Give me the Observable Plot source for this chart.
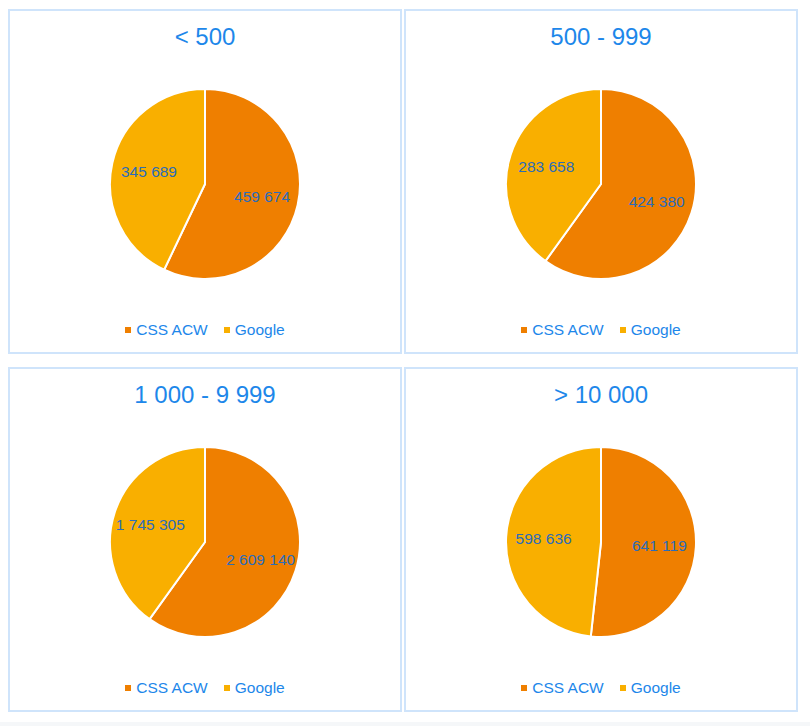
<!DOCTYPE html>
<html>
<head>
<meta charset="utf-8">
<script src="https://cdn.jsdelivr.net/npm/d3@7"></script>
<script src="https://cdn.jsdelivr.net/npm/@observablehq/plot@0.6"></script>
<style>
  html, body { margin: 0; padding: 0; background: #ffffff; }
  body { width: 810px; height: 726px; position: relative; overflow: hidden;
         font-family: "Liberation Sans", Arial, sans-serif; }
  .panel { position: absolute; box-sizing: border-box; width: 394px; height: 345px;
           border: 2px solid #cfe4fb; background: #fff; overflow: hidden; }
  .title { height: 52px; line-height: 52px; text-align: center; font-size: 24px; color: #1d87ea; }
  .plot svg { display: block; }
  .legend { height: 49px; display: flex; justify-content: center; align-items: center;
            font-size: 15.5px; color: #1d87ea; }
  .item { display: flex; align-items: center; margin: 0 8px; }
  .sw { display: inline-block; width: 6px; height: 6px; margin-right: 5px; }
  .strip { position: absolute; left: 0; top: 722px; width: 810px; height: 4px; background: #f5f7f9; }
</style>
</head>
<body>
<div id="root"></div>
<div class="strip"></div>
<script>
// ---- data ----
const panelTitles = ["< 500", "500 - 999", "1 000 - 9 999", "> 10 000"];
const seriesNames = ["CSS ACW", "Google"];
const cssAcwValues = [459674, 424380, 2609140, 641119];
const googleValues = [345689, 283658, 1745305, 598636];
const seriesColors = ["#ef7f00", "#f9af00"];

// ---- layout ----
const panelPos = [[8, 9], [404, 9], [8, 367], [404, 367]];
const W = 390, H = 242, R = 95;

const fmt = d3.formatLocale({decimal: ",", thousands: " ", grouping: [3], currency: ["", ""]}).format(",d");
const colorScale = Plot.scale({color: {type: "ordinal", domain: seriesNames, range: seriesColors}});

const root = document.getElementById("root");

panelTitles.forEach((title, i) => {
  const values = [cssAcwValues[i], googleValues[i]];
  const data = seriesNames.map((name, j) => ({name, value: values[j]}));
  const arcs = d3.pie().sort(null).value(d => d.value)(data);
  const labelArc = d3.arc().innerRadius(R * 0.61).outerRadius(R * 0.61);
  const labels = arcs.map(a => {
    const [lx, ly] = labelArc.centroid(a);
    return {lx, ly: -ly, label: fmt(a.data.value)};
  });

  const pieMark = (index, scales, values_, dims) => {
    const cx = scales.x ? scales.x(0) : dims.width / 2;
    const cy = scales.y ? scales.y(0) : dims.height / 2;
    const r = scales.x ? scales.x(R) - scales.x(0) : R;
    const arc = d3.arc().innerRadius(0).outerRadius(r);
    const g = d3.create("svg:g").attr("transform", `translate(${cx},${cy})`);
    g.selectAll("path").data(arcs).join("path")
      .attr("d", arc)
      .attr("fill", d => colorScale.apply(d.data.name))
      .attr("stroke", "#ffffff")
      .attr("stroke-width", 2)
      .attr("stroke-linejoin", "round");
    return g.node();
  };

  const plot = Plot.plot({
    width: W, height: H, margin: 0,
    x: {domain: [-W / 2, W / 2], axis: null},
    y: {domain: [-H / 2, H / 2], axis: null},
    style: {background: "transparent", fontFamily: "'Liberation Sans', Arial, sans-serif", overflow: "visible"},
    marks: [
      pieMark,
      Plot.text(labels, {x: "lx", y: "ly", text: "label", fill: "#2b6cba", fontSize: 15.5})
    ]
  });

  const panel = document.createElement("div");
  panel.className = "panel";
  panel.style.left = panelPos[i][0] + "px";
  panel.style.top = panelPos[i][1] + "px";

  const t = document.createElement("div");
  t.className = "title";
  t.textContent = title;
  panel.appendChild(t);

  const p = document.createElement("div");
  p.className = "plot";
  p.appendChild(plot);
  panel.appendChild(p);

  const leg = document.createElement("div");
  leg.className = "legend";
  seriesNames.forEach((name, j) => {
    const item = document.createElement("span");
    item.className = "item";
    const sw = document.createElement("span");
    sw.className = "sw";
    sw.style.background = colorScale.apply(name);
    item.appendChild(sw);
    item.appendChild(document.createTextNode(name));
    leg.appendChild(item);
  });
  panel.appendChild(leg);

  root.appendChild(panel);
});
</script>
</body>
</html>
